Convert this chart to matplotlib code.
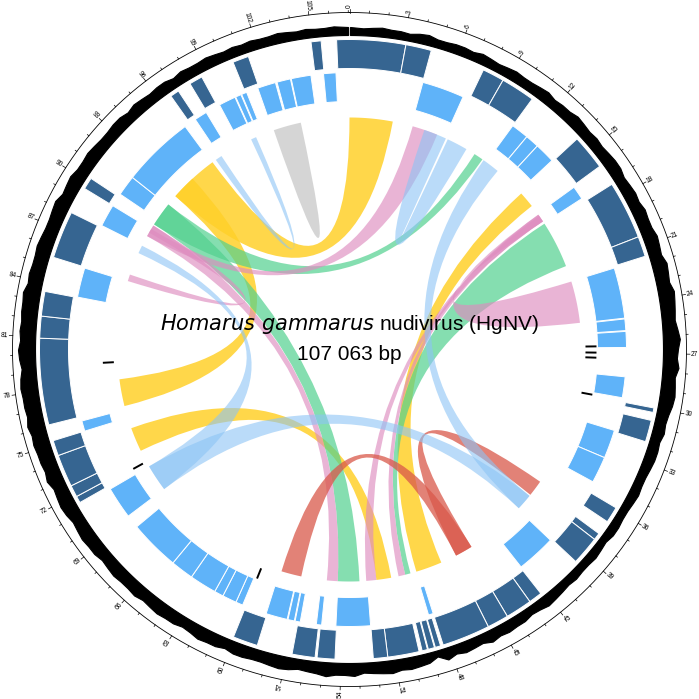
import numpy as np
import matplotlib.pyplot as plt
from matplotlib.patches import Polygon, PathPatch
from matplotlib.path import Path

GENOME_KB = 107.063

# forward-strand genes (outer ring), kb
fwd_start = [-0.71, 3.12, 7.61, 8.83, 14.04, 17.19, 20.43, 30.0, 30.7, 35.9, 37.6, 38.0,
             42.2, 42.95, 44.43, 45.62, 48.45, 48.8, 49.2, 49.67, 51.42, 54.33, 55.43,
             58.68, 71.5, 71.88, 72.54, 74.35, 76.11, 80.92, 82.14, 85.44, 89.6, 96.6,
             97.85, 100.5, 104.94]
fwd_end = [3.12, 4.55, 8.83, 10.74, 16.0, 20.43, 21.56, 30.25, 31.91, 36.8, 38.0, 39.6,
           42.95, 44.43, 45.62, 48.3, 48.75, 49.15, 49.5, 51.42, 52.22, 55.32, 56.71,
           60.07, 71.88, 72.54, 74.35, 75.21, 80.92, 82.14, 83.51, 88.09, 90.26, 97.1,
           98.6, 101.4, 105.5]

# reverse-strand genes (inner ring), kb
rev_start = [4.57, 10.74, 11.84, 12.7, 16.1, 21.68, 24.88, 25.65, 28.45, 31.82, 33.6,
             39.7, 48.3, 52.23, 55.25, 56.58, 56.95, 57.4, 60.28, 60.73, 61.62, 62.19,
             63.88, 65.31, 69.3, 75.2, 83.54, 88.2, 90.44, 91.72, 97.0, 98.74, 99.85,
             100.25, 101.31, 102.55, 103.45, 105.46]
rev_end = [7.2, 11.84, 12.7, 13.97, 16.95, 24.83, 25.6, 26.64, 29.75, 33.6, 35.25,
           42.15, 48.6, 54.37, 55.58, 56.9, 57.35, 58.74, 60.73, 61.62, 62.19, 63.88,
           65.31, 68.46, 71.3, 75.85, 85.38, 89.6, 91.72, 96.24, 97.8, 99.8, 100.2,
           100.58, 102.45, 103.4, 104.68, 106.23]

# small features (kb)
marks = [26.55, 26.98, 27.33, 29.9, 60.07, 71.7, 79.38]

# GC track height per 0.5 kb window (px above baseline)
gc = [8, 7, 8, 9, 8, 8, 7, 9, 10, 8, 8, 9, 9, 8, 10, 9, 8, 9, 10, 9,
      9, 10, 11, 9, 10, 10, 12, 11, 10, 11, 10, 11, 12, 12, 10, 11, 12, 11, 13, 12,
      12, 14, 13, 12, 15, 14, 13, 16, 15, 14, 13, 15, 17, 15, 14, 16, 13, 14, 15, 14,
      12, 11, 12, 10, 11, 11, 10, 9, 9, 10, 9, 8, 8, 9, 9, 7, 8, 9, 8, 8,
      9, 8, 9, 10, 11, 9, 8, 10, 10, 11, 10, 12, 9, 10, 11, 9, 12, 6, 10, 11,
      12, 11, 13, 12, 11, 10, 13, 12, 12, 14, 12, 11, 10, 12, 13, 12, 11, 11, 12, 12,
      10, 12, 12, 13, 11, 10, 12, 12, 13, 12, 11, 13, 12, 12, 13, 12, 11, 13, 13, 14,
      13, 12, 14, 15, 14, 13, 16, 14, 15, 15, 16, 15, 17, 15, 16, 16, 17, 16, 14, 16,
      17, 15, 16, 15, 16, 16, 17, 14, 15, 14, 14, 15, 14, 13, 13, 14, 15, 12, 13, 14,
      12, 12, 13, 12, 11, 11, 12, 12, 10, 12, 11, 10, 11, 11, 9, 11, 10, 10, 11, 10,
      9, 10, 9, 10, 9, 9, 10, 9, 8, 9, 8, 8, 9, 8]

# links: colour, a_start, a_end, b_start, b_end (kb)
link_color = ['yellow', 'yellow', 'yellow', 'yellow',
              'green', 'green', 'green',
              'pink', 'pink', 'pink', 'pink', 'pink', 'pink',
              'red', 'red',
              'blue', 'blue', 'blue', 'blue', 'blue',
              'grey']
link_a1 = [92.6, 14.2, 76.1, 50.45, 17.0, 9.7, 52.8, 16.2, 85.4, 54.4, 4.7, 16.2, 16.3,
           44.1, 37.1, 38.4, 10.5, 96.6, 5.6, 69.3, 101.4]
link_a2 = [96.3, 15.4, 78.1, 51.55, 20.5, 10.4, 54.4, 16.8, 85.9, 55.2, 6.6, 16.8, 16.8,
           45.4, 38.3, 39.6, 11.8, 97.1, 7.3, 71.3, 102.45]
link_b1 = [0.0, 46.6, 92.6, 72.6, 49.0, 90.0, 90.0, 21.7, 89.3, 89.0, 89.0, 49.4, 51.55,
           57.1, 44.1, 69.3, 38.4, 99.6, 7.45, 87.6, 102.45]
link_b2 = [3.2, 48.55, 94.4, 74.4, 49.4, 91.8, 91.8, 24.8, 89.9, 89.9, 89.6, 49.9, 52.3,
           58.6, 45.4, 71.3, 39.6, 100.0, 9.0, 88.2, 103.46]

palette = {'yellow': ('#ffd02a', 0.85), 'green': ('#52d08f', 0.7),
           'pink': ('#de8cbf', 0.65), 'red': ('#d9584a', 0.75),
           'blue': ('#8cc4f5', 0.6), 'grey': ('#c4c4c4', 0.7)}

DARK = '#366591'
LIGHT = '#5fb3f9'
R_SCALE = 337


def ang(kb):
    return np.asarray(kb) / GENOME_KB * 2 * np.pi


def arc_pts(k1, k2, r, n=None):
    if n is None:
        n = max(3, int(abs(k2 - k1) * 12))
    t = np.linspace(ang(k1), ang(k2), n)
    return np.c_[r * np.sin(t), r * np.cos(t)]


def sector(ax, k1, k2, r1, r2, color):
    pts = np.vstack([arc_pts(k1, k2, r2), arc_pts(k2, k1, r1)])
    ax.add_patch(Polygon(pts, closed=True, fc=color, ec='white', lw=0.7))


def ribbon(ax, a1, a2, b1, b2, color, alpha, r=232):
    A = arc_pts(a1, a2, r)
    B = arc_pts(b1, b2, r)
    verts = [A[0]] + list(A[1:]) + [(0, 0), B[0]] + list(B[1:]) + [(0, 0), A[0]]
    codes = ([Path.MOVETO] + [Path.LINETO] * (len(A) - 1) + [Path.CURVE3] * 2 +
             [Path.LINETO] * (len(B) - 1) + [Path.CURVE3] * 2)
    ax.add_patch(PathPatch(Path(verts, codes), fc=color, alpha=alpha, lw=0))


fig = plt.figure(figsize=(6.99, 6.99), dpi=100)
ax = fig.add_axes([0, 0, 1, 1])
ax.set_xlim(-349.5, 349.5)
ax.set_ylim(-349.5, 349.5)
ax.set_aspect('equal')
ax.axis('off')

# outer scale
t = np.linspace(0, 2 * np.pi, 721)
ax.plot(R_SCALE * np.sin(t), R_SCALE * np.cos(t), color='black', lw=0.6)
for k in range(0, 108):
    th = ang(k)
    L = 3.5 if k % 3 == 0 else 2
    ax.plot([R_SCALE * np.sin(th), (R_SCALE + L) * np.sin(th)],
            [R_SCALE * np.cos(th), (R_SCALE + L) * np.cos(th)], color='black', lw=0.5)
    if k % 3 == 0:
        deg = np.degrees(th)
        x, y = (R_SCALE + 4.5) * np.sin(th), (R_SCALE + 4.5) * np.cos(th)
        if deg <= 180:
            ax.text(x, y, str(k), rotation=90 - deg, rotation_mode='anchor',
                    ha='left', va='center', fontsize=4.8, family='Liberation Sans')
        else:
            ax.text(x, y, str(k), rotation=270 - deg, rotation_mode='anchor',
                    ha='right', va='center', fontsize=4.8, family='Liberation Sans')

# GC track
base = 314
pos = (np.arange(len(gc)) + 0.5) * 0.5
pos[0], pos[-1] = 0.05, GENOME_KB - 0.05
th = ang(pos)
h = base + np.array(gc)
outer = np.c_[h * np.sin(th), h * np.cos(th)]
inner = arc_pts(GENOME_KB - 0.05, 0.05, base, 400)
ax.add_patch(Polygon(np.vstack([outer, inner]), closed=True, fc='black', ec='black',
                     lw=0.8, joinstyle='miter'))

# genes
for s, e in zip(fwd_start, fwd_end):
    sector(ax, s, e, 281, 310, DARK)
for s, e in zip(rev_start, rev_end):
    sector(ax, s, e, 248, 277, LIGHT)

for m in marks:
    th = ang(m)
    ax.plot([236 * np.sin(th), 247 * np.sin(th)], [236 * np.cos(th), 247 * np.cos(th)],
            color='black', lw=1.4, solid_capstyle='butt')

# links
for c, a1, a2, b1, b2 in zip(link_color, link_a1, link_a2, link_b1, link_b2):
    col, al = palette[c]
    ribbon(ax, a1, a2, b1, b2, col, al)

# title
ax.text(0, 26, r'$\it{Homarus\ gammarus}$ nudivirus (HgNV)', ha='center', va='center',
        fontsize=15, family='Liberation Sans')
ax.text(0, -5, '107 063 bp', ha='center', va='center', fontsize=15,
        family='Liberation Sans')

fig.savefig('out.png', dpi=100)
